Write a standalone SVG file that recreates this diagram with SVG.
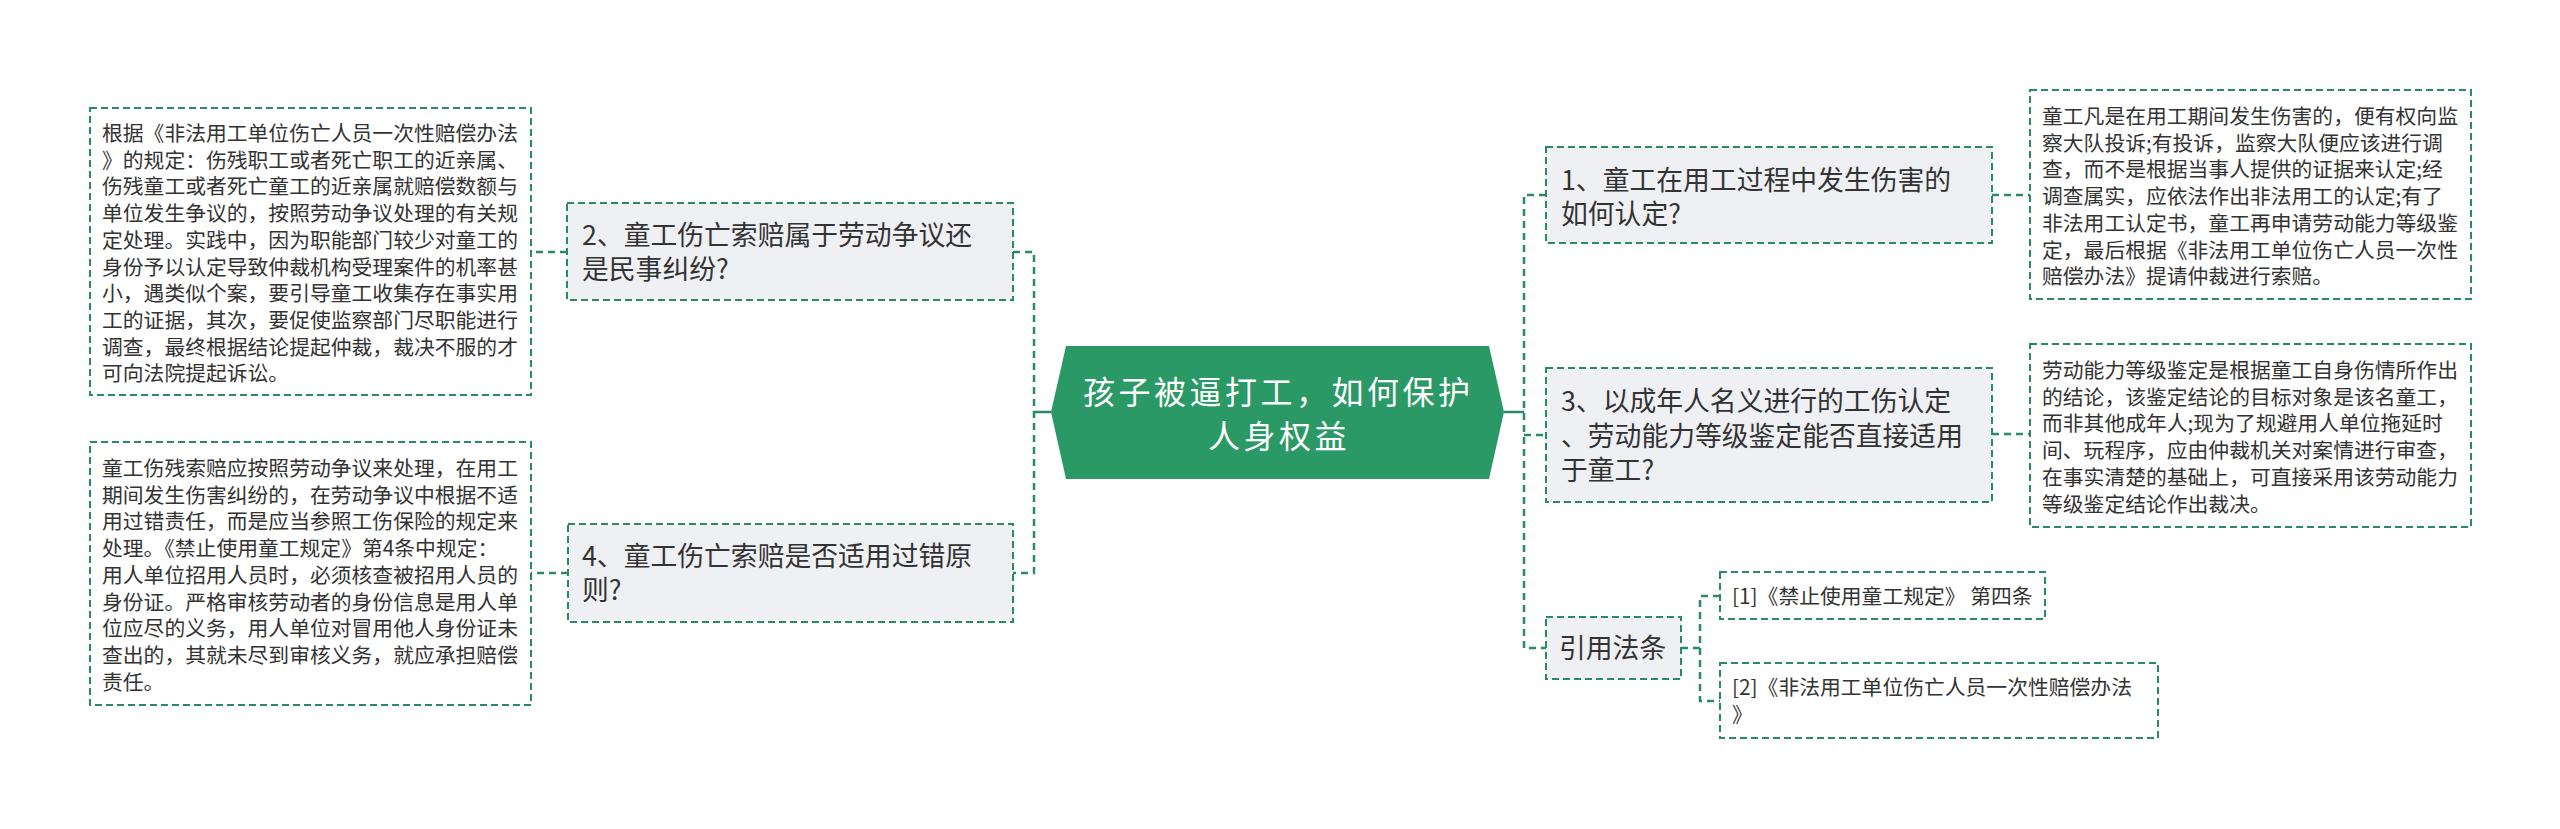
<svg xmlns="http://www.w3.org/2000/svg" width="2560" height="829" viewBox="0 0 2560 829">
<style>
.bg{fill:#ffffff}
.box{fill:#ffffff;stroke:#2a8a63;stroke-width:2;stroke-dasharray:7 4}
.node{fill:#eef0f3;stroke:#2a8a63;stroke-width:2;stroke-dasharray:7 4}
.t{font-family:"Noto Sans CJK SC","Noto Sans",sans-serif;fill:#333333}
.s{font-size:20.8px}
.m{font-size:26.8px}
.c{font-size:32px;fill:#ffffff;letter-spacing:3.5px}
.conn{fill:none;stroke:#2a8a63;stroke-width:2.5;stroke-dasharray:7 5}
.solid{fill:none;stroke:#2a8a63;stroke-width:2.5}
</style>
<rect class="bg" x="0" y="0" width="2560" height="829"/>
<g id="connectors">
<path class="solid" d="M1051 412 H1034"/>
<path class="conn" d="M1013 252 H1034 V573 H1013"/>
<path class="solid" d="M1504 412 H1524"/>
<path class="conn" d="M1546 195 H1524 V648 H1546"/>
<path class="conn" d="M1524 435 H1546"/>
<path class="conn" d="M567 252 H531"/>
<path class="conn" d="M568 573 H531"/>
<path class="conn" d="M1992 195 H2030"/>
<path class="conn" d="M1992 434 H2030"/>
<path class="conn" d="M1681 648 H1700"/>
<path class="conn" d="M1720 596 H1700 V701 H1720"/>
</g>
<g id="center">
<polygon points="1051,412 1066,346 1489,346 1504,412 1489,479 1066,479" fill="#2b9966"/>
<text class="t c" x="1083" y="404">孩子被逼打工，如何保护</text>
<text class="t c" x="1208" y="448">人身权益</text>
</g>
<g id="n2">
<rect class="node" x="567" y="203" width="446" height="97"/>
<text class="t m" x="582" y="244.5">2、童工伤亡索赔属于劳动争议还</text>
<text class="t m" x="582" y="278.5">是民事纠纷?</text>
</g>
<g id="n2d">
<rect class="box" x="90" y="108" width="441" height="287"/>
<text class="t s" x="102" y="141">根据《非法用工单位伤亡人员一次性赔偿办法</text>
<text class="t s" x="102" y="167.7">》的规定：伤残职工或者死亡职工的近亲属、</text>
<text class="t s" x="102" y="194.4">伤残童工或者死亡童工的近亲属就赔偿数额与</text>
<text class="t s" x="102" y="221.1">单位发生争议的，按照劳动争议处理的有关规</text>
<text class="t s" x="102" y="247.8">定处理。实践中，因为职能部门较少对童工的</text>
<text class="t s" x="102" y="274.5">身份予以认定导致仲裁机构受理案件的机率甚</text>
<text class="t s" x="102" y="301.2">小，遇类似个案，要引导童工收集存在事实用</text>
<text class="t s" x="102" y="327.9">工的证据，其次，要促使监察部门尽职能进行</text>
<text class="t s" x="102" y="354.6">调查，最终根据结论提起仲裁，裁决不服的才</text>
<text class="t s" x="102" y="381.3">可向法院提起诉讼。</text>
</g>
<g id="n4">
<rect class="node" x="568" y="524" width="445" height="98"/>
<text class="t m" x="582" y="566">4、童工伤亡索赔是否适用过错原</text>
<text class="t m" x="582" y="600">则?</text>
</g>
<g id="n4d">
<rect class="box" x="90" y="442" width="441" height="263"/>
<text class="t s" x="102" y="476">童工伤残索赔应按照劳动争议来处理，在用工</text>
<text class="t s" x="102" y="502.7">期间发生伤害纠纷的，在劳动争议中根据不适</text>
<text class="t s" x="102" y="529.4">用过错责任，而是应当参照工伤保险的规定来</text>
<text class="t s" x="102" y="556.1">处理。《禁止使用童工规定》第4条中规定：</text>
<text class="t s" x="102" y="582.8">用人单位招用人员时，必须核查被招用人员的</text>
<text class="t s" x="102" y="609.5">身份证。严格审核劳动者的身份信息是用人单</text>
<text class="t s" x="102" y="636.2">位应尽的义务，用人单位对冒用他人身份证未</text>
<text class="t s" x="102" y="662.9">查出的，其就未尽到审核义务，就应承担赔偿</text>
<text class="t s" x="102" y="689.6">责任。</text>
</g>
<g id="n1">
<rect class="node" x="1546" y="147" width="446" height="96"/>
<text class="t m" x="1561" y="190">1、童工在用工过程中发生伤害的</text>
<text class="t m" x="1561" y="223.5">如何认定?</text>
</g>
<g id="n1d">
<rect class="box" x="2030" y="90" width="441" height="209"/>
<text class="t s" x="2042" y="124">童工凡是在用工期间发生伤害的，便有权向监</text>
<text class="t s" x="2042" y="150.7">察大队投诉;有投诉，监察大队便应该进行调</text>
<text class="t s" x="2042" y="177.4">查，而不是根据当事人提供的证据来认定;经</text>
<text class="t s" x="2042" y="204.1">调查属实，应依法作出非法用工的认定;有了</text>
<text class="t s" x="2042" y="230.8">非法用工认定书，童工再申请劳动能力等级鉴</text>
<text class="t s" x="2042" y="257.5">定，最后根据《非法用工单位伤亡人员一次性</text>
<text class="t s" x="2042" y="284.2">赔偿办法》提请仲裁进行索赔。</text>
</g>
<g id="n3">
<rect class="node" x="1546" y="368" width="446" height="134"/>
<text class="t m" x="1561" y="411">3、以成年人名义进行的工伤认定</text>
<text class="t m" x="1561" y="445.5">、劳动能力等级鉴定能否直接适用</text>
<text class="t m" x="1561" y="480">于童工?</text>
</g>
<g id="n3d">
<rect class="box" x="2030" y="344" width="441" height="183"/>
<text class="t s" x="2042" y="378">劳动能力等级鉴定是根据童工自身伤情所作出</text>
<text class="t s" x="2042" y="404.7">的结论，该鉴定结论的目标对象是该名童工，</text>
<text class="t s" x="2042" y="431.4">而非其他成年人;现为了规避用人单位拖延时</text>
<text class="t s" x="2042" y="458.1">间、玩程序，应由仲裁机关对案情进行审查，</text>
<text class="t s" x="2042" y="484.8">在事实清楚的基础上，可直接采用该劳动能力</text>
<text class="t s" x="2042" y="511.5">等级鉴定结论作出裁决。</text>
</g>
<g id="ref">
<rect class="node" x="1546" y="617" width="135" height="62"/>
<text class="t m" x="1559" y="658">引用法条</text>
</g>
<g id="ref1">
<rect class="box" x="1720" y="572" width="325" height="47"/>
<text class="t s" x="1732" y="603.5">[1]《禁止使用童工规定》 第四条</text>
</g>
<g id="ref2">
<rect class="box" x="1720" y="663" width="438" height="75"/>
<text class="t s" x="1732" y="695">[2]《非法用工单位伤亡人员一次性赔偿办法</text>
<text class="t s" x="1732" y="722">》</text>
</g>
</svg>
